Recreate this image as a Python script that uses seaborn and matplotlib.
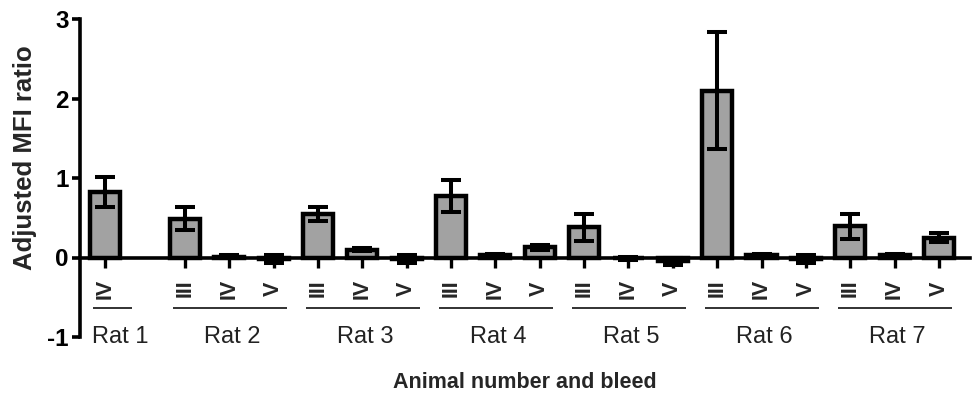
import numpy as np
import pandas as pd
import matplotlib
matplotlib.use("Agg")
import matplotlib.pyplot as plt
import seaborn as sns

# Animals and the bleeds measured for each of them
rats = ["Rat 1", "Rat 2", "Rat 3", "Rat 4", "Rat 5", "Rat 6", "Rat 7"]
bleeds = [["IV"], ["III", "IV", "V"], ["III", "IV", "V"], ["III", "IV", "V"],
          ["III", "IV", "V"], ["III", "IV", "V"], ["III", "IV", "V"]]

# Adjusted MFI ratio (mean) and error per bar, in bleed order
means = [0.82,
         0.49, 0.01, -0.02,
         0.55, 0.10, -0.02,
         0.77, 0.03, 0.13,
         0.38, -0.01, -0.05,
         2.10, 0.03, -0.02,
         0.39, 0.03, 0.25]
errors = [0.19,
          0.15, 0.02, 0.05,
          0.09, 0.02, 0.05,
          0.20, 0.02, 0.03,
          0.17, 0.02, 0.05,
          0.74, 0.02, 0.05,
          0.16, 0.02, 0.06]

y_ticks = [-1, 0, 1, 2, 3]

# Slot positions: one slot per bar, with extra room after the first animal
group_gap = 0.8
rows = []
slot = 0.0
for gi, (rat, bl) in enumerate(zip(rats, bleeds)):
    if gi == 1:
        slot += group_gap
    for b in bl:
        rows.append({"rat": rat, "bleed": b, "pos": slot})
        slot += 1
df = pd.DataFrame(rows)
df["mean"] = means
df["err"] = errors

sns.set_theme(style="ticks")
plt.rcParams["font.family"] = ["Liberation Sans", "DejaVu Sans"]

fig = plt.figure(figsize=(9.76, 3.97), dpi=100)
ax = fig.add_axes([80 / 976, 1 - 337 / 397, 890 / 976, 318 / 397])

sns.barplot(data=df, x="pos", y="mean", native_scale=True, width=0.68,
            color="#a2a2a2", edgecolor="black", linewidth=3.2,
            saturation=1, errorbar=None, ax=ax, zorder=2)
ax.errorbar(df["pos"], df["mean"], yerr=df["err"], fmt="none",
            ecolor="black", elinewidth=2.9, capsize=7, capthick=2.9, zorder=3)

ax.set_xlim(-0.565, 19.5)
ax.set_ylim(-1, 3)
ax.set_yticks(y_ticks)
ax.set_yticklabels([str(t) for t in y_ticks], fontsize=17.5, fontweight="bold")
ax.set_xticks(df["pos"])
ax.set_xticklabels([])

ax.spines["top"].set_visible(False)
ax.spines["right"].set_visible(False)
ax.spines["bottom"].set_position(("data", 0))
for s in ["left", "bottom"]:
    ax.spines[s].set_linewidth(2.6)
    ax.spines[s].set_color("black")
ax.tick_params(axis="y", length=6, width=2.6, pad=2, colors="black")
ax.tick_params(axis="x", length=7, width=2.4, direction="out", colors="black")

# Bleed labels (rotated), group underlines and animal names
for _, r in df.iterrows():
    ax.text(r["pos"], -0.39, r["bleed"], rotation=90, ha="center", va="center",
            fontsize=15.5, fontweight="bold", clip_on=False)
for rat in rats:
    sub = df[df["rat"] == rat]
    x0, x1 = sub["pos"].min(), sub["pos"].max()
    right = max(x1 + 0.3, x0 + 0.6)
    ax.plot([x0 - 0.27, right], [-0.64, -0.64], color="#222222", lw=1.3,
            clip_on=False, solid_capstyle="butt")
    label_x = (x0 + x1) / 2 + (0.34 if x0 == x1 else 0.06)
    ax.text(label_x, -1.0, rat, ha="center", va="center",
            fontsize=17, color="#222222", clip_on=False)

ax.set_ylabel("Adjusted MFI ratio", fontsize=18.5, fontweight="bold")
ax.yaxis.set_label_coords(-0.048, 0.565)
ax.set_xlabel("")
fig.text(525 / 976, 1 - 382 / 397, "Animal number and bleed", ha="center",
         va="center", fontsize=15.5, fontweight="bold")

fig.savefig("out.png", dpi=100)
